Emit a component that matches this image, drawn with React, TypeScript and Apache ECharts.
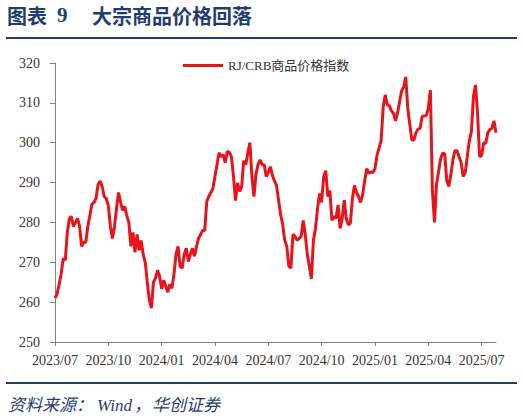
import React, { useEffect, useRef } from "react";
import * as echarts from "echarts";

// Quarter tick labels on the x axis (one every 26 half-week points)
const quarterLabels = [
  "2023/07", "2023/10", "2024/01", "2024/04", "2024/07",
  "2024/10", "2025/01", "2025/04", "2025/07",
];
const POINTS_PER_QUARTER = 26;

// RJ/CRB commodity index (approx. twice weekly)
const values2023H2 = [
  261, 262, 264.5, 267, 271, 270.5, 277.5, 281, 281.5, 279, 280, 281, 279,
  274, 275, 275, 279, 281.7, 284.6, 285, 286, 289.5, 290.4, 289, 286.5, 286,
  284.2, 279, 276, 279, 283.5, 287.5, 285, 283, 284, 281.7, 280, 274, 277.5,
  272.5, 277, 273, 275.5, 272, 270, 265, 260.5, 258.5, 265, 266, 268, 266.5,
];
const values2024H1 = [
  263.3, 265.5, 264, 262.5, 264.5, 263.5, 267, 272, 274, 269, 268.5, 272, 273.5,
  270.2, 272, 273.5, 271.5, 274, 276, 277, 278, 278, 285.3, 286.5, 287.5, 288.5,
  291.6, 294.5, 297.5, 296.5, 297, 295, 297.8, 297.6, 296.5, 291.6, 285.5, 289.9,
  287.8, 289, 295.5, 294.5, 297.4, 300, 291.5, 286.5, 292.2, 294.5, 295.7, 294.5,
  294.5, 291.5,
];
const values2024H2 = [
  292.5, 294, 291.8, 290.4, 289.3, 285.6, 282, 279.5, 275.5, 274, 269, 268.5, 277,
  276.5, 275.5, 276, 276.5, 280.5, 277, 272, 269, 265.8, 275.6, 278.5, 283.5, 287.3,
  285, 291.5, 293, 286.5, 288, 280.5, 281.5, 281, 284.4, 278.5, 281, 285.6, 281,
  279.4, 279.8, 286, 289.3, 287.5, 286.5, 285, 287, 290.5, 293.5, 292.3, 292.7,
  292.5,
];
const values2025 = [
  293.5, 296.9, 298.7, 300.5, 309, 312, 309.5, 309.3, 308, 307.4, 305.5, 307.4,
  310.3, 313, 314, 316.5, 308.5, 304.5, 300.7, 300.7, 302.5, 303.4, 303.6, 306.6,
  306.7, 306.8, 308.6, 313.2, 288, 280, 289.6, 292.8, 296, 297.4, 297.2, 290.5,
  289, 292, 295.7, 298, 298, 296.5, 295, 291.5, 292.5, 296.5, 300.5, 302.7, 311.5,
  314.5, 307.4, 296.5, 296.8, 300, 299.8, 302.5, 303.3, 303.6, 305.5, 302.5,
];

const seriesName = "RJ/CRB商品价格指数";
const titleLead = "图表";
const titleNum = "9";
const titleText = "大宗商品价格回落";
const sourceParts = ["资料来源：", "Wind", "，", "华创证券"];

const values = [...values2023H2, ...values2024H1, ...values2024H2, ...values2025];
const categories = values.map((_, i) => {
  const q = Math.floor(i / POINTS_PER_QUARTER);
  return i % POINTS_PER_QUARTER === 0 ? quarterLabels[q] : `${quarterLabels[q]}#${i % POINTS_PER_QUARTER}`;
});

const BLUE = "#1F3D72";
const RED = "#E8141C";
const SERIF = "'Times New Roman', 'Liberation Serif', 'Noto Sans CJK SC', serif";
const SRC_FONT = "italic 17px 'Liberation Serif', 'Noto Sans CJK SC'";

export default function App() {
  const ref = useRef<HTMLDivElement>(null);
  useEffect(() => {
    if (!ref.current) return;
    const chart = echarts.init(ref.current, undefined, { renderer: "svg" });
    const srcX = [8, 97, 134, 152];
    chart.setOption({
      animation: false,
      backgroundColor: "#ffffff",
      grid: { left: 55, right: 28, top: 63, bottom: 76, containLabel: false },
      legend: {
        left: 178,
        top: 54,
        icon: "rect",
        itemWidth: 40,
        itemHeight: 3,
        itemGap: 5,
        textStyle: { fontFamily: SERIF, fontSize: 13, color: "#333333" },
        data: [seriesName],
      },
      xAxis: {
        type: "category",
        data: categories,
        boundaryGap: false,
        axisLine: { show: true, lineStyle: { color: "#808080", width: 1 } },
        axisTick: { show: true, interval: POINTS_PER_QUARTER - 1, length: 4, lineStyle: { color: "#808080" } },
        axisLabel: {
          interval: POINTS_PER_QUARTER - 1,
          margin: 11,
          fontFamily: SERIF,
          fontSize: 14,
          color: "#333333",
          formatter: (v: string) => v.split("#")[0],
        },
        splitLine: { show: false },
      },
      yAxis: {
        type: "value",
        min: 250,
        max: 320,
        interval: 10,
        axisLine: { show: true, lineStyle: { color: "#808080", width: 1 } },
        axisTick: { show: true, length: 5, lineStyle: { color: "#808080" } },
        axisLabel: { margin: 15, fontFamily: SERIF, fontSize: 14, color: "#333333" },
        splitLine: { show: false },
      },
      series: [
        {
          name: seriesName,
          type: "line",
          data: values,
          symbol: "none",
          lineStyle: { color: RED, width: 3 },
          itemStyle: { color: RED },
        },
      ],
      graphic: [
        {
          type: "text",
          left: 7,
          top: 5,
          style: { text: titleLead, fill: BLUE, font: "bold 20px 'Noto Sans CJK SC'" },
        },
        {
          type: "text",
          left: 57,
          top: 4,
          style: { text: titleNum, fill: BLUE, font: "bold 21px 'Liberation Serif'" },
        },
        {
          type: "text",
          left: 92,
          top: 5,
          style: { text: titleText, fill: BLUE, font: "bold 20px 'Noto Sans CJK SC'" },
        },
        {
          type: "line",
          shape: { x1: 6, y1: 38, x2: 517, y2: 38 },
          style: { stroke: BLUE, lineWidth: 2 },
        },
        {
          type: "line",
          shape: { x1: 6, y1: 383, x2: 517, y2: 383 },
          style: { stroke: BLUE, lineWidth: 2 },
        },
        ...sourceParts.map((t, k) => ({
          type: "text",
          left: srcX[k],
          top: 397,
          style: { text: t, fill: BLUE, font: SRC_FONT },
        })),
      ],
    });
    return () => chart.dispose();
  }, []);
  return (
    <div
      ref={ref}
      style={{ position: "absolute", left: 0, top: 0, width: 524, height: 418, background: "#fff" }}
    />
  );
}
